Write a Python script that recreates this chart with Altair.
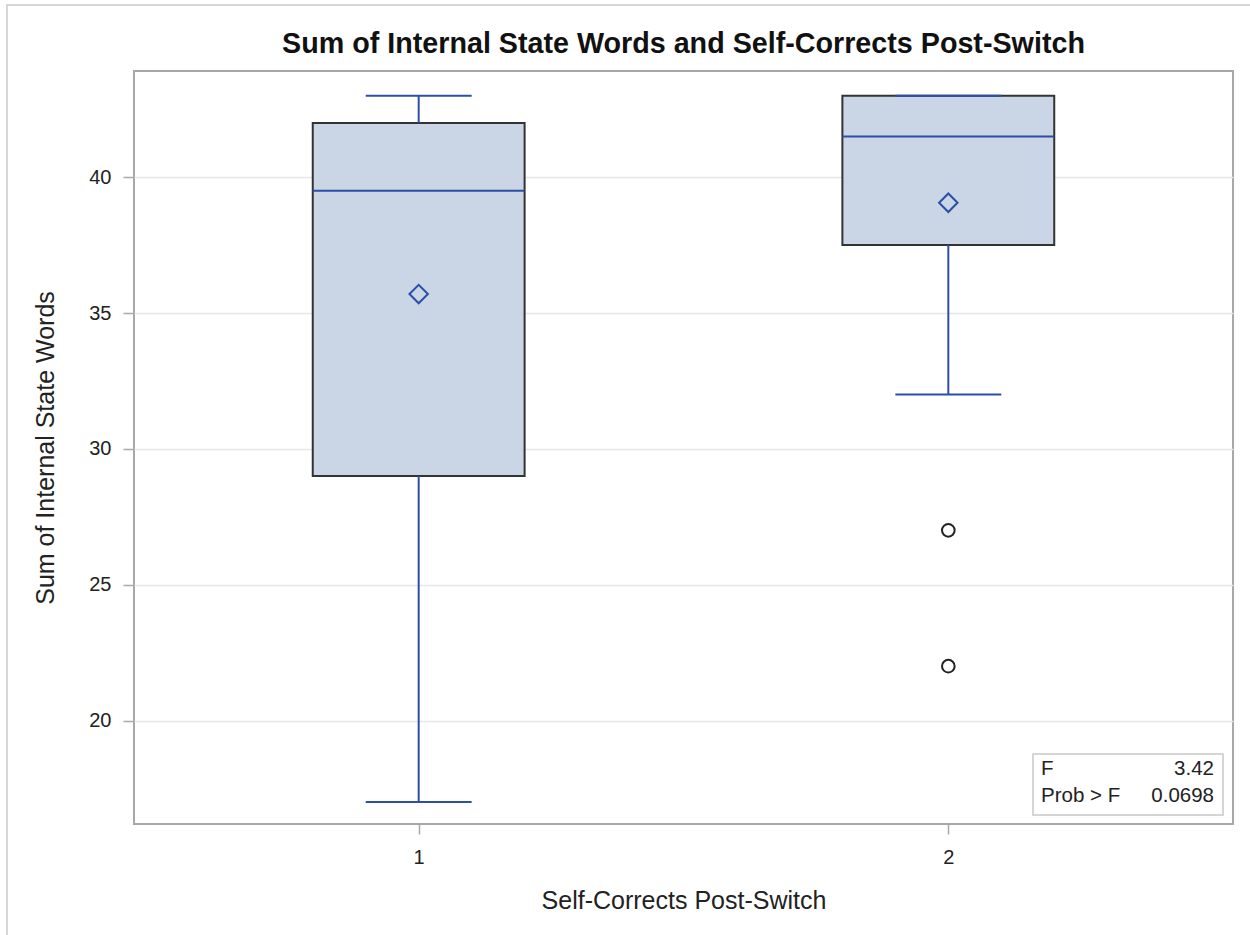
import altair as alt
import pandas as pd

# Five-number summaries per group of self-corrects post-switch
groups = [1, 2]
whisker_low = [17, 32]
q1 = [29, 37.5]
median = [39.5, 41.5]
q3 = [42, 43]
whisker_high = [43, 43]
means = [35.7, 39.06]

# Points beyond the whiskers
outlier_group = [2, 2]
outlier_value = [27, 22]

# ANOVA statistics shown in the inset
stat_labels = ["F", "Prob > F"]
stat_values = ["3.42", "0.0698"]

BLUE = "#2B4FA8"
FILL = "#CAD5E5"
EDGE = "#333333"
FRAME = "#A8A8A8"
FONT = "Liberation Sans"

summary = pd.DataFrame({
    "group": groups, "lo": whisker_low, "q1": q1, "med": median,
    "q3": q3, "hi": whisker_high, "mean": means,
})
outliers = pd.DataFrame({"group": outlier_group, "value": outlier_value})
stats = pd.DataFrame({"label": stat_labels, "value": stat_values, "row": [0, 1]})

x_scale = alt.Scale(domain=[0.4625, 2.5375], nice=False, zero=False)
y_scale = alt.Scale(domain=[16.19, 43.91], nice=False, zero=False)

x_axis = alt.Axis(values=[1, 2], format="d", title="Self-Corrects Post-Switch",
                  grid=False, tickSize=10, labelPadding=13, titlePadding=21)
y_axis = alt.Axis(values=[20, 25, 30, 35, 40], title="Sum of Internal State Words",
                  grid=True, tickSize=11, labelPadding=12, titlePadding=30)

base = alt.Chart(summary).transform_calculate(
    box_lo="datum.group - 0.2", box_hi="datum.group + 0.2",
    cap_lo="datum.group - 0.1", cap_hi="datum.group + 0.1",
)

box = base.mark_rect(fill=FILL, stroke=EDGE, strokeWidth=2).encode(
    x=alt.X("box_lo:Q", scale=x_scale, axis=x_axis),
    x2="box_hi:Q",
    y=alt.Y("q1:Q", scale=y_scale, axis=y_axis),
    y2="q3:Q",
)

med_line = base.mark_rule(color=BLUE, strokeWidth=2).encode(
    x="box_lo:Q", x2="box_hi:Q", y="med:Q"
)

whisk_low = base.mark_rule(color=BLUE, strokeWidth=2).encode(
    x="group:Q", y="lo:Q", y2="q1:Q"
)
whisk_high = base.mark_rule(color=BLUE, strokeWidth=2).encode(
    x="group:Q", y="q3:Q", y2="hi:Q"
)
cap_low = base.mark_rule(color=BLUE, strokeWidth=2).encode(
    x="cap_lo:Q", x2="cap_hi:Q", y="lo:Q"
)
cap_high = base.mark_rule(color=BLUE, strokeWidth=2).encode(
    x="cap_lo:Q", x2="cap_hi:Q", y="hi:Q"
)

mean_pts = base.mark_point(shape="diamond", size=340, filled=False,
                           color=BLUE, strokeWidth=2, opacity=1).encode(
    x="group:Q", y="mean:Q"
)

out_pts = alt.Chart(outliers).mark_point(shape="circle", size=160, filled=False,
                                         color="#222222", strokeWidth=2, opacity=1).encode(
    x="group:Q", y="value:Q"
)

# Inset table with the F test
inset_box = alt.Chart(pd.DataFrame({"k": [0]})).mark_rect(
    fill="white", stroke="#C8C8C8", strokeWidth=1.5
).encode(x=alt.value(899), x2=alt.value(1089), y=alt.value(683), y2=alt.value(744))

inset_left = alt.Chart(stats).mark_text(
    align="left", baseline="middle", font=FONT, fontSize=20.5, color="#222222"
).transform_calculate(py="698 + datum.row * 27").encode(
    x=alt.value(907), y=alt.Y("py:Q", scale=None), text="label:N"
)
inset_right = alt.Chart(stats).mark_text(
    align="right", baseline="middle", font=FONT, fontSize=20.5, color="#222222"
).transform_calculate(py="698 + datum.row * 27").encode(
    x=alt.value(1080), y=alt.Y("py:Q", scale=None), text="value:N"
)

# Light page border along the left and top edges
outer = alt.Chart(pd.DataFrame({"k": [0]})).mark_rect(
    fillOpacity=0, stroke="#D6D6D6", strokeWidth=2
).encode(x=alt.value(-127), x2=alt.value(1200), y=alt.value(-66), y2=alt.value(900))

chart = alt.layer(
    outer, box, med_line, whisk_low, whisk_high, cap_low, cap_high,
    mean_pts, out_pts, inset_box, inset_left, inset_right,
).properties(
    width=1099, height=753,
    background="white",
    title=alt.TitleParams("Sum of Internal State Words and Self-Corrects Post-Switch",
                          font=FONT, fontSize=28.7, fontWeight="bold", color="#111111",
                          anchor="middle", baseline="alphabetic", offset=0, dy=78),
    autosize=alt.AutoSizeParams(type="none"),
    padding={"left": 134, "top": 71, "right": 17, "bottom": 111},
).configure_view(
    stroke=FRAME, strokeWidth=2
).configure_axis(
    domain=False, tickColor=FRAME, tickWidth=1.5, gridColor="#E6E6E6", gridWidth=1.5,
    labelFont=FONT, labelFontSize=20, labelColor="#222222",
    titleFont=FONT, titleFontSize=25, titleFontWeight="normal", titleColor="#222222",
)

chart.save("out.html", embed_options={"renderer": "svg", "actions": False})
